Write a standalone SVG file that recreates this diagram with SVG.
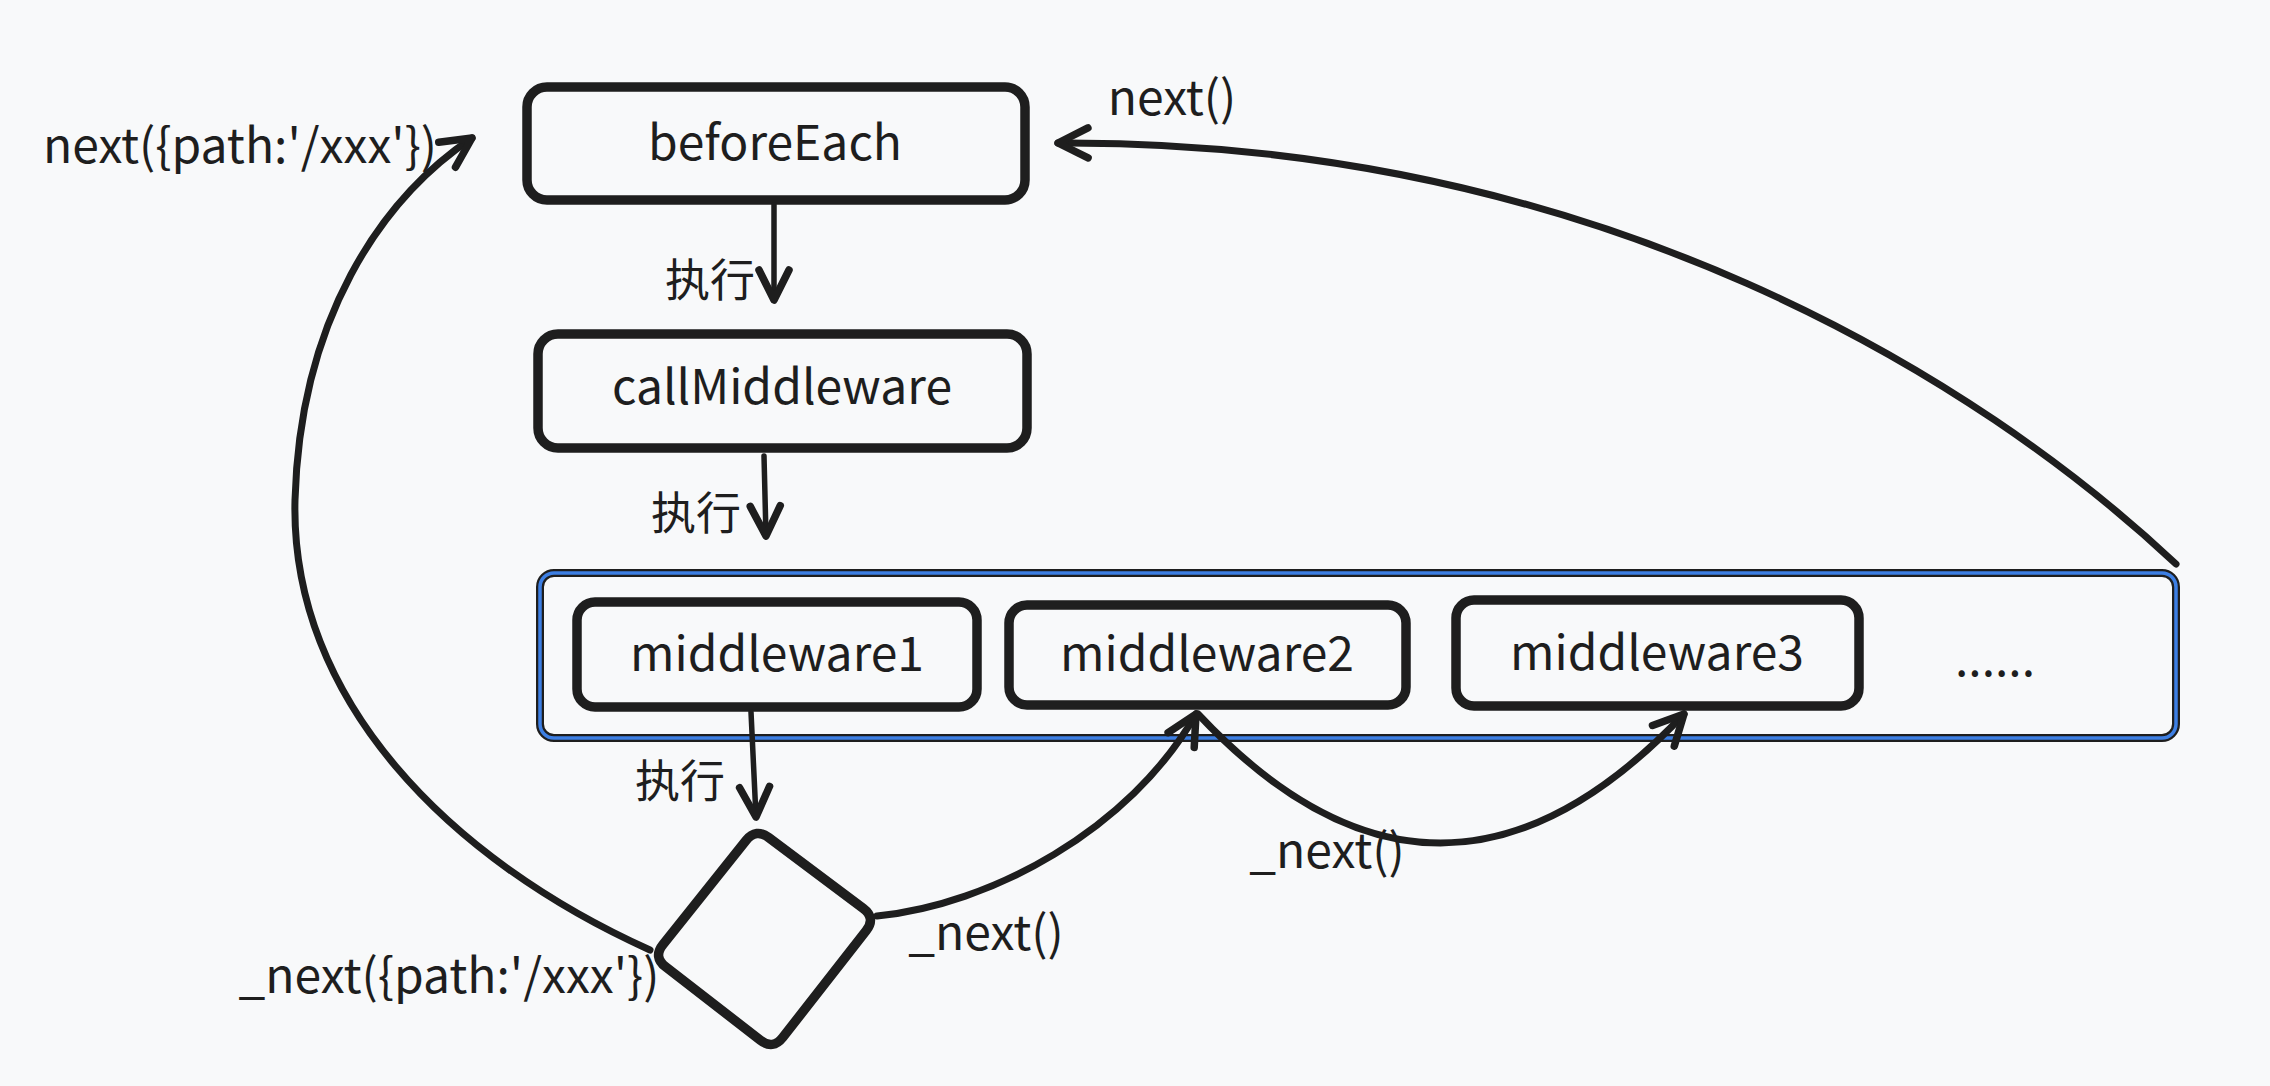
<svg xmlns="http://www.w3.org/2000/svg" width="2270" height="1086" viewBox="0 0 2270 1086">
<style>
  .bg { fill: #f8f9fa; }
  .box { fill: none; stroke: #1e1e1e; stroke-width: 9.5; stroke-linejoin: round; }
  .cont { fill: none; stroke: #1e1e1e; stroke-width: 8; }
  .contb { fill: none; stroke: #3d7fe3; stroke-width: 3.5; }
  .t { font-family: "Noto Sans CJK SC", "Noto Sans", sans-serif; font-size: 48px; fill: #1e1e1e; text-anchor: middle; }
  .lbl { font-family: "Noto Sans CJK SC", "Noto Sans", sans-serif; font-size: 45px; fill: #1e1e1e; text-anchor: middle; }
  .arr { fill: none; stroke: #1e1e1e; stroke-width: 7; stroke-linecap: round; stroke-linejoin: round; marker-end: url(#ah); }
  .arrs { fill: none; stroke: #1e1e1e; stroke-width: 5.5; stroke-linecap: round; marker-end: url(#ah); }
</style>
<defs>
  <marker id="ah" markerUnits="userSpaceOnUse" markerWidth="80" markerHeight="80" viewBox="-40 -40 80 80" refX="0" refY="0" orient="auto">
    <path d="M-30,-15 L0,0 L-30,15" fill="none" stroke="#1e1e1e" stroke-width="7.5" stroke-linecap="round" stroke-linejoin="round"/>
  </marker>
</defs>
<rect class="bg" x="0" y="0" width="2270" height="1086"/>

<g id="container">
  <rect class="cont" x="540" y="573" width="1636" height="165" rx="14"/>
  <rect class="contb" x="540" y="573" width="1636" height="165" rx="14"/>
  <text class="t" x="1995" y="676">......</text>
</g>
<g id="beforeEach">
  <rect class="box" x="527" y="87" width="498" height="113" rx="20"/>
  <text class="t" x="775" y="160">beforeEach</text>
</g>
<g id="callMiddleware">
  <rect class="box" x="538" y="334" width="489" height="114" rx="20"/>
  <text class="t" x="782" y="404">callMiddleware</text>
</g>
<g id="middleware1">
  <rect class="box" x="577" y="602" width="400" height="105" rx="18"/>
  <text class="t" x="777" y="671">middleware1</text>
</g>
<g id="middleware2">
  <rect class="box" x="1009" y="605" width="397" height="100" rx="18"/>
  <text class="t" x="1207" y="671">middleware2</text>
</g>
<g id="middleware3">
  <rect class="box" x="1456" y="600" width="403" height="106" rx="18"/>
  <text class="t" x="1657" y="670">middleware3</text>
</g>
<g id="decision">
  <path class="box" stroke-width="8.5" d="M768.8,837.6 L863.2,908.4 Q876,918 866.2,930.6 L782.8,1037.4 Q773,1050 760.4,1040.2 L665.6,966.8 Q653,957 663,944.5 L746,840.5 Q756,828 768.8,837.6 Z"/>
</g>

<g id="connectors">
  <path class="arrs" d="M774,205 L774,300"/>
  <text class="lbl" x="710" y="297">执行</text>
  <path class="arrs" d="M764,456 L766,536"/>
  <text class="lbl" x="696" y="530">执行</text>
  <path class="arrs" d="M751,712 L756,817"/>
  <text class="lbl" x="680" y="798">执行</text>

  <path class="arr" d="M877,916 C990,905 1130,830 1196,714"/>
  <text class="t" x="986" y="950">_next()</text>

  <path class="arr" d="M1198,714 Q1440,972 1684,714"/>
  <text class="t" x="1327" y="868">_next()</text>

  <path class="arr" d="M650,950 C450,860 290,700 295,500 C300,320 380,200 472,138"/>
  <text class="t" x="449" y="993">_next({path:'/xxx'})</text>
  <text class="t" x="240" y="163">next({path:'/xxx'})</text>

  <path class="arr" d="M2176,564 C1980,380 1600,140 1058,143"/>
  <text class="t" x="1172" y="115">next()</text>
</g>
</svg>
